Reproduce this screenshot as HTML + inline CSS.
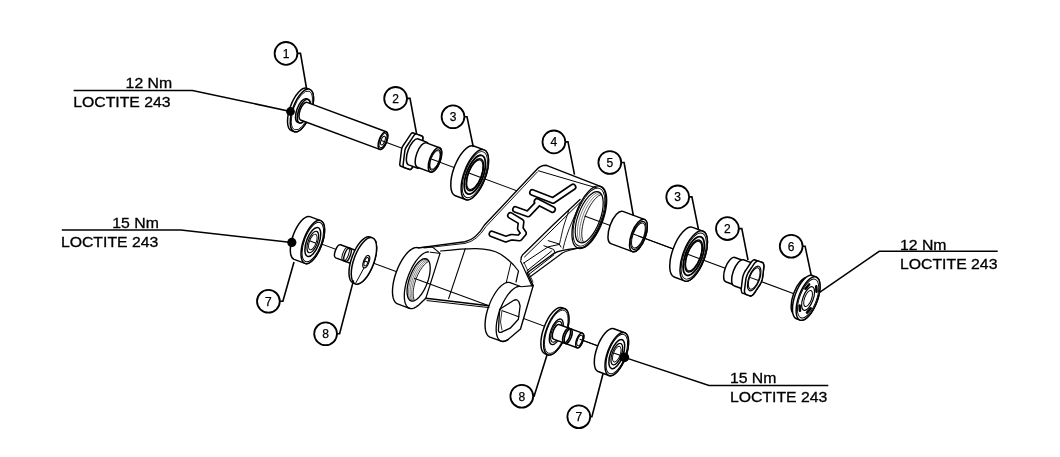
<!DOCTYPE html>
<html><head><meta charset="utf-8"><style>
html,body{margin:0;padding:0;background:#fff;}
svg{display:block;will-change:transform;font-family:"Liberation Sans",sans-serif;}
</style></head><body>
<svg width="1060" height="457" viewBox="0 0 1060 457">
<rect width="1060" height="457" fill="#fff"/>
<line x1="382.50" y1="140.91" x2="808.08" y2="299.02" stroke="#000" stroke-width="1.05"/>
<line x1="306.24" y1="238.38" x2="617.73" y2="353.26" stroke="#000" stroke-width="1.05"/>
<path d="M306.91,88.33 A9.22,22.50 20.38 0 0 291.24,130.51 L294.05,131.56 A9.22,22.50 20.38 0 0 309.72,89.37 Z" fill="#fff" stroke="#000" stroke-width="1.5" stroke-linejoin="round"/><ellipse cx="301.88" cy="110.46" rx="9.22" ry="22.50" transform="rotate(20.380 301.88 110.46)" fill="#fff" stroke="#000" stroke-width="1.5" />
<ellipse cx="301.88" cy="110.46" rx="8.40" ry="20.50" transform="rotate(20.380 301.88 110.46)" fill="none" stroke="#000" stroke-width="0.8" />
<path d="M306.24,98.75 A5.12,12.50 20.38 0 0 297.53,122.18 L299.41,122.88 A5.12,12.50 20.38 0 0 308.11,99.44 Z" fill="#fff" stroke="#000" stroke-width="1.5" stroke-linejoin="round"/><ellipse cx="303.76" cy="111.16" rx="5.12" ry="12.50" transform="rotate(20.380 303.76 111.16)" fill="#fff" stroke="#000" stroke-width="1.5" />
<path d="M307.03,102.35 A3.85,9.40 20.38 0 0 300.49,119.97 L379.70,149.40 A3.85,9.40 20.38 0 0 386.24,131.78 Z" fill="#fff" stroke="#000" stroke-width="1.5" stroke-linejoin="round"/>
<ellipse cx="382.97" cy="140.59" rx="3.85" ry="9.40" transform="rotate(20.380 382.97 140.59)" fill="none" stroke="#000" stroke-width="1.5" />
<ellipse cx="382.97" cy="140.59" rx="3.12" ry="7.60" transform="rotate(20.380 382.97 140.59)" fill="none" stroke="#000" stroke-width="0.9" />
<ellipse cx="382.97" cy="140.59" rx="1.89" ry="4.60" transform="rotate(20.380 382.97 140.59)" fill="none" stroke="#000" stroke-width="1.0" />
<line x1="381.20" y1="140.43" x2="384.74" y2="141.74" stroke="#000" stroke-width="1.05"/>
<path d="M399.78,163.95 L399.98,162.35 L400.85,155.27 L401.59,149.33 L402.04,147.67 L402.78,146.13 L403.68,144.78 L405.32,142.31 L410.96,133.87 L411.86,132.95 L412.69,132.69 L414.04,133.19 L415.97,133.91 L420.35,135.54 L422.33,136.27 L422.78,137.01 L422.87,138.29 L422.67,139.90 L421.80,146.98 L421.06,152.92 L420.61,154.57 L419.87,156.12 L418.97,157.46 L411.70,168.38 L410.79,169.29 L409.97,169.56 L405.58,167.93 L402.30,166.71 L400.32,165.97 L399.87,165.24 Z" fill="#fff" stroke="#000" stroke-width="1.5" stroke-linejoin="round"/><path d="M415.78,162.25 L415.02,163.40 L414.24,164.57 L413.44,165.77 L412.59,167.03 L411.70,168.38 L410.79,169.29 L409.97,169.56 L409.27,169.30 L408.61,169.05 L407.99,168.82 L407.38,168.60 L406.78,168.37 L406.19,168.15 L405.58,167.93 L404.96,167.70 L404.30,167.45 L403.60,167.19 L403.15,166.46 L403.06,165.17 L403.26,163.56 L403.45,162.06 L403.62,160.62 L403.80,159.23 L403.97,157.86 L404.14,156.49 L404.31,155.09 L404.49,153.66 L404.67,152.15 L404.87,150.55 L405.32,148.89 L406.06,147.35 L406.96,146.00 L407.80,144.74 L408.60,143.53 L409.38,142.37 L410.15,141.22 L410.92,140.07 L411.69,138.90 L412.50,137.69 L413.34,136.43 L414.24,135.09 L415.14,134.17 L415.97,133.91 L416.67,134.17 L417.32,134.41 L417.95,134.64 L418.55,134.87 L419.15,135.09 L419.75,135.31 L420.35,135.54 L420.98,135.77 L421.63,136.01 L422.33,136.27 L422.78,137.01 L422.87,138.29 L422.67,139.90 L422.49,141.40 L422.31,142.84 L422.14,144.23 L421.97,145.61 L421.80,146.98 L421.62,148.37 L421.45,149.81 L421.26,151.31 L421.06,152.92 L420.61,154.57 L419.87,156.12 L418.97,157.46 L418.13,158.73 L417.33,159.93 L416.55,161.10 Z" fill="#fff" stroke="#000" stroke-width="1.5" stroke-linejoin="round"/>
<path d="M418.24,138.97 A5.66,13.80 20.38 0 0 408.63,164.84 L417.07,167.98 A5.66,13.80 20.38 0 0 426.68,142.10 Z" fill="#fff" stroke="#000" stroke-width="1.5" stroke-linejoin="round"/>
<path d="M426.40,142.85 A5.33,13.00 20.38 0 0 417.34,167.23 L430.47,172.10 A5.33,13.00 20.38 0 0 439.52,147.73 Z" fill="#fff" stroke="#000" stroke-width="1.5" stroke-linejoin="round"/>
<ellipse cx="435.00" cy="159.92" rx="5.33" ry="13.00" transform="rotate(20.380 435.00 159.92)" fill="none" stroke="#000" stroke-width="1.5" />
<ellipse cx="435.00" cy="159.92" rx="4.43" ry="10.80" transform="rotate(20.380 435.00 159.92)" fill="none" stroke="#000" stroke-width="1.0" />
<ellipse cx="435.00" cy="159.92" rx="4.02" ry="9.80" transform="rotate(20.380 435.00 159.92)" fill="none" stroke="#000" stroke-width="0.8" />
<line x1="431.23" y1="159.02" x2="438.76" y2="161.82" stroke="#000" stroke-width="1.05"/>
<path d="M473.75,146.04 A10.87,26.50 20.38 0 0 455.30,195.73 L465.61,199.56 A10.87,26.50 20.38 0 0 484.06,149.88 Z" fill="#fff" stroke="#000" stroke-width="1.5" stroke-linejoin="round"/><ellipse cx="474.84" cy="174.72" rx="10.87" ry="26.50" transform="rotate(20.380 474.84 174.72)" fill="#fff" stroke="#000" stroke-width="1.5" /><ellipse cx="474.84" cy="174.72" rx="9.96" ry="24.30" transform="rotate(20.380 474.84 174.72)" fill="none" stroke="#000" stroke-width="0.9" /><ellipse cx="474.84" cy="174.72" rx="8.40" ry="20.50" transform="rotate(20.380 474.84 174.72)" fill="none" stroke="#000" stroke-width="1.8" /><ellipse cx="474.84" cy="174.72" rx="6.93" ry="16.90" transform="rotate(20.380 474.84 174.72)" fill="none" stroke="#000" stroke-width="1.5" /><ellipse cx="474.84" cy="174.72" rx="6.40" ry="15.60" transform="rotate(20.380 474.84 174.72)" fill="none" stroke="#000" stroke-width="1.1" /><line x1="468.84" y1="172.99" x2="480.83" y2="177.44" stroke="#000" stroke-width="1.05"/>
<path d="M309.90,216.63 A9.35,22.80 20.24 0 0 294.12,259.41 L304.91,263.39 A9.35,22.80 20.24 0 0 320.69,220.61 Z" fill="#fff" stroke="#000" stroke-width="1.5" stroke-linejoin="round"/><ellipse cx="312.80" cy="242.00" rx="9.35" ry="22.80" transform="rotate(20.244 312.80 242.00)" fill="#fff" stroke="#000" stroke-width="1.5" /><ellipse cx="312.80" cy="242.00" rx="8.53" ry="20.80" transform="rotate(20.244 312.80 242.00)" fill="none" stroke="#000" stroke-width="1.0" /><ellipse cx="312.80" cy="242.00" rx="6.27" ry="15.30" transform="rotate(20.244 312.80 242.00)" fill="none" stroke="#000" stroke-width="1.5" /><ellipse cx="312.80" cy="242.00" rx="4.63" ry="11.30" transform="rotate(20.244 312.80 242.00)" fill="none" stroke="#000" stroke-width="1.2" /><ellipse cx="312.80" cy="242.00" rx="3.40" ry="8.30" transform="rotate(20.244 312.80 242.00)" fill="none" stroke="#000" stroke-width="0.9" /><line x1="309.61" y1="240.82" x2="316.00" y2="243.18" stroke="#000" stroke-width="1.05"/>
<path d="M340.56,244.78 A2.87,7.00 20.24 0 0 335.71,257.91 L359.17,266.56 A2.87,7.00 20.24 0 0 364.01,253.43 Z" fill="#fff" stroke="#000" stroke-width="1.5" stroke-linejoin="round"/><ellipse cx="361.59" cy="259.99" rx="2.87" ry="7.00" transform="rotate(20.244 361.59 259.99)" fill="#fff" stroke="#000" stroke-width="1.5" />
<ellipse cx="345.64" cy="254.11" rx="2.87" ry="7.00" transform="rotate(20.244 345.64 254.11)" fill="none" stroke="#000" stroke-width="1.0" />
<ellipse cx="347.52" cy="254.80" rx="2.87" ry="7.00" transform="rotate(20.244 347.52 254.80)" fill="none" stroke="#000" stroke-width="1.4" />
<path d="M370.07,237.01 A10.04,24.50 20.24 0 0 353.11,282.98 L355.46,283.85 A10.04,24.50 20.24 0 0 372.41,237.87 Z" fill="#fff" stroke="#000" stroke-width="1.5" stroke-linejoin="round"/><ellipse cx="363.94" cy="260.86" rx="10.04" ry="24.50" transform="rotate(20.244 363.94 260.86)" fill="#fff" stroke="#000" stroke-width="1.5" />
<ellipse cx="366.28" cy="261.72" rx="2.67" ry="6.50" transform="rotate(20.244 366.28 261.72)" fill="none" stroke="#000" stroke-width="1.2" />
<ellipse cx="366.28" cy="261.72" rx="1.80" ry="4.40" transform="rotate(20.244 366.28 261.72)" fill="none" stroke="#000" stroke-width="1.0" />
<line x1="364.59" y1="261.10" x2="367.97" y2="262.35" stroke="#000" stroke-width="1.05"/>
<line x1="364.03" y1="267.82" x2="355.81" y2="282.91" stroke="#000" stroke-width="1"/>
<path d="M397.59,303.94 L396.37,303.29 L395.29,302.29 L394.38,300.97 L393.63,299.32 L393.06,297.38 L392.68,295.18 L392.49,292.73 L392.50,290.06 L392.70,287.22 L393.09,284.24 L393.67,281.15 L394.42,277.99 L395.35,274.81 L396.44,271.65 L397.67,268.53 L399.03,265.51 L400.50,262.62 L402.07,259.89 L403.70,257.37 L405.40,255.08 L407.12,253.05 L408.86,251.31 L410.58,249.88 L412.27,248.77 L413.91,248.01 L415.47,247.59 L416.93,247.54 L418.29,247.84 L465,241.8 Q476,239.5 484.5,225 L536.3,170 Q540.5,165.2 546.5,165.3 L601.09,186.63 L602.43,187.35 L603.61,188.44 L604.61,189.90 L605.43,191.71 L606.05,193.83 L606.46,196.26 L606.66,198.95 L606.64,201.87 L606.42,204.98 L605.98,208.26 L605.34,211.64 L604.50,215.10 L603.47,218.59 L602.27,222.06 L600.91,225.47 L599.42,228.78 L597.79,231.95 L596.07,234.94 L594.26,237.70 L592.40,240.21 L590.50,242.43 L588.60,244.34 L586.70,245.90 L584.85,247.11 L583.05,247.94 L581.34,248.39 L579.73,248.45 L578.24,248.12 C570,249 558,251 554.4,253.1 L527.2,272.8 L533.2,285.6 L520.5,329 L508.03,339.57 L507.08,340.17 L506.14,340.66 L505.23,341.04 L504.34,341.30 L503.48,341.44 L502.65,341.46 L501.86,341.37 L501.11,341.16 L490.04,337.08 L489.43,336.80 L488.85,336.44 L488.31,336.00 L487.81,335.48 L487.34,334.87 L486.92,334.19 L486.53,333.43 L486.19,332.60 L485.89,331.69 L485.64,330.72 L485.43,329.68 L485.27,328.57 L485.16,327.41 L485.09,326.20 L485.07,324.93 L485.10,323.61 L485.17,322.26 L485.29,320.86 L485.46,319.43 L485.67,317.97 L485.93,316.48 L486.23,314.97 L486.58,313.45 L486.96,311.91 L487.39,310.37 L487.86,308.83 L488.37,307.28 L488.92,305.75 L425.8,298.3 L419.23,304.46 L417.88,305.66 L416.55,306.66 L415.25,307.47 L413.97,308.06 L412.74,308.44 L411.57,308.61 L410.46,308.56 L409.42,308.30 Z" fill="#fff" stroke="#000" stroke-width="1.4" stroke-linejoin="round"/>
<path d="M428.41,251.88 L426.98,252.01 L425.48,252.46 L423.91,253.24 L422.29,254.32 L420.64,255.71 L418.98,257.37 L417.33,259.30 L415.71,261.46 L414.14,263.85 L412.63,266.42 L411.20,269.15 L409.87,272.01 L408.65,274.96 L407.57,277.97 L406.62,281.01 L405.82,284.04 L405.18,287.03 L404.71,289.94 L404.41,292.74 L404.29,295.39 L404.35,297.87 L404.58,300.15 L404.99,302.20 L405.57,304.00 L406.31,305.52 L407.20,306.76 L408.24,307.69 L409.42,308.30" fill="none" stroke="#000" stroke-width="1.3" stroke-linejoin="round" stroke-linecap="round"/>
<path d="M418.29,247.84 L432,246.6 L440,253.4 L425.8,298.3" fill="none" stroke="#000" stroke-width="1.2" stroke-linejoin="round" stroke-linecap="round"/>
<path d="M430.11,252.19 L440,253.4" fill="none" stroke="#000" stroke-width="1.0" stroke-linejoin="round" stroke-linecap="round"/>
<path d="M427.25,283.01 L425.93,286.26 L424.43,289.35 L422.79,292.21 L421.05,294.76 L419.25,296.94 L417.43,298.70 L415.64,300.00 L413.93,300.80 L412.33,301.09 L410.88,300.85 L409.63,300.09 L408.60,298.84 L407.82,297.12 L407.30,294.97 L407.06,292.45 L407.11,289.61 L407.44,286.54 L408.05,283.30 L408.91,279.98 L410.02,276.65 L411.34,273.41 L412.84,270.32 L414.48,267.46 L416.22,264.91 L418.02,262.72 L419.84,260.96 L421.63,259.66 L423.34,258.86 L424.94,258.58 L426.39,258.82 L427.64,259.57 L428.67,260.83 L429.45,262.55 L429.97,264.70 L430.21,267.22 L430.16,270.05 L429.83,273.12 L429.23,276.36 L428.36,279.68 L427.25,283.01 Z" fill="none" stroke="#000" stroke-width="1.3" stroke-linejoin="round" stroke-linecap="round"/>
<path d="M411.68,301.05 L410.77,300.27 L410.00,299.19 L409.39,297.83 L408.95,296.20 L408.67,294.32 L408.57,292.24 L408.65,289.97 L408.90,287.56 L409.32,285.04 L409.91,282.45 L410.65,279.83 L411.54,277.22 L412.56,274.65 L413.70,272.17 L414.93,269.82 L416.25,267.63 L417.62,265.63 L419.04,263.86 L420.47,262.34 L421.89,261.10 L423.29,260.15 L424.64,259.50 L425.92,259.18 L427.12,259.18" fill="none" stroke="#000" stroke-width="0.5"/><path d="M412.53,301.08 L411.77,300.15 L411.14,298.96 L410.65,297.54 L410.32,295.88 L410.13,294.03 L410.10,292.00 L410.23,289.82 L410.51,287.53 L410.94,285.14 L411.52,282.70 L412.23,280.23 L413.07,277.78 L414.02,275.37 L415.08,273.03 L416.23,270.80 L417.45,268.70 L418.73,266.78 L420.05,265.04 L421.39,263.51 L422.73,262.22 L424.06,261.19 L425.36,260.42 L426.61,259.92 L427.79,259.71" fill="none" stroke="#000" stroke-width="0.5"/><path d="M413.45,300.94 L412.83,299.89 L412.33,298.62 L411.96,297.15 L411.73,295.50 L411.62,293.69 L411.66,291.73 L411.83,289.65 L412.13,287.47 L412.57,285.23 L413.13,282.94 L413.80,280.64 L414.59,278.34 L415.48,276.08 L416.46,273.89 L417.52,271.79 L418.65,269.80 L419.83,267.95 L421.05,266.25 L422.30,264.74 L423.56,263.43 L424.81,262.33 L426.04,261.45 L427.24,260.81 L428.39,260.41" fill="none" stroke="#000" stroke-width="0.5"/><path d="M414.44,300.61 L413.95,299.47 L413.58,298.16 L413.32,296.67 L413.18,295.05 L413.15,293.29 L413.24,291.41 L413.45,289.44 L413.77,287.40 L414.20,285.30 L414.74,283.17 L415.38,281.03 L416.12,278.90 L416.94,276.81 L417.84,274.76 L418.81,272.79 L419.85,270.92 L420.93,269.15 L422.05,267.52 L423.20,266.04 L424.36,264.72 L425.53,263.57 L426.69,262.61 L427.83,261.86 L428.93,261.30" fill="none" stroke="#000" stroke-width="0.9"/>
<path d="M424,248.0 L465,243.4 Q477,241 486,226.5 L537.5,171.8" fill="none" stroke="#000" stroke-width="0.9" stroke-linejoin="round" stroke-linecap="round"/>
<path d="M440.5,251.0 C468,248 488,246.5 500.3,253.9 C508,259 515,266 518.5,271 L516,282" fill="none" stroke="#000" stroke-width="1.2" stroke-linejoin="round" stroke-linecap="round"/>
<path d="M465.3,248.6 L448.6,298.6" fill="none" stroke="#000" stroke-width="1.1" stroke-linejoin="round" stroke-linecap="round"/>
<path d="M427,300.6 L489,307.6" fill="none" stroke="#000" stroke-width="1.0" stroke-linejoin="round" stroke-linecap="round"/>
<path d="M510.8,263.5 L506.4,281.9" fill="none" stroke="#000" stroke-width="1.0" stroke-linejoin="round" stroke-linecap="round"/>
<path d="M519.53,286.43 L517.90,286.62 L516.16,287.23 L514.35,288.27 L512.48,289.71 L510.59,291.54 L508.72,293.72 L506.88,296.23 L505.10,299.01 L503.43,302.03 L501.87,305.24 L500.46,308.59 L499.22,312.02 L498.17,315.48 L497.33,318.92 L496.70,322.28 L496.31,325.51 L496.14,328.55 L496.22,331.36 L496.53,333.90 L497.07,336.12 L497.84,337.99 L498.81,339.48 L499.99,340.57 L501.33,341.24 L502.84,341.47 L504.47,341.26 L506.21,340.63 L508.03,339.57" fill="none" stroke="#000" stroke-width="1.3" stroke-linejoin="round" stroke-linecap="round"/>
<path d="M488.92,305.75 L490.11,302.73 L491.43,299.80 L492.86,297.00 L494.38,294.35 L495.97,291.91 L497.61,289.69 L499.28,287.72 L500.96,286.03 L502.63,284.64 L504.27,283.57 L505.86,282.83 L507.37,282.43 L508.80,282.37 L510.11,282.66 L521.18,286.74 L533.2,285.6" fill="none" stroke="#000" stroke-width="1.2" stroke-linejoin="round" stroke-linecap="round"/>
<path d="M499.6,309.3 L513.5,300.5 Q517,298.5 519,302 L520.1,306 L518.4,319.2 L510.2,328.2 L501,332.3 Q498,333 498.5,329 Z" fill="none" stroke="#000" stroke-width="1.3" stroke-linejoin="round" stroke-linecap="round"/>
<path d="M502,310 L500.5,322 L502,330" fill="none" stroke="#000" stroke-width="0.8" stroke-linejoin="round" stroke-linecap="round"/>
<path d="M521,260 Q521,255.5 524,253.5 L553,225 L580,199.5" fill="none" stroke="#000" stroke-width="1.3" stroke-linejoin="round" stroke-linecap="round"/>
<path d="M524.5,257 L580,202.5" fill="none" stroke="#000" stroke-width="1.0" stroke-linejoin="round" stroke-linecap="round"/>
<path d="M520.5,261 L532,286" fill="none" stroke="#000" stroke-width="1.2" stroke-linejoin="round" stroke-linecap="round"/>
<path d="M524,262.5 L533,282" fill="none" stroke="#000" stroke-width="0.8" stroke-linejoin="round" stroke-linecap="round"/>
<path d="M523.6,263.1 L548.2,246.8 L559,244.5" fill="none" stroke="#000" stroke-width="1.0" stroke-linejoin="round" stroke-linecap="round"/>
<path d="M526.9,270.8 L551.5,251.1" fill="none" stroke="#000" stroke-width="1.0" stroke-linejoin="round" stroke-linecap="round"/>
<path d="M528.6,274.6 L553.7,255" fill="none" stroke="#000" stroke-width="1.0" stroke-linejoin="round" stroke-linecap="round"/>
<path d="M530.2,276.8 L562,253.3 C566,250.5 572,249 585,247" fill="none" stroke="#000" stroke-width="1.2" stroke-linejoin="round" stroke-linecap="round"/>
<path d="M548.2,240.7 L559.2,244 L561,247 M543.9,245.7 L553.7,249.5 L555,253" fill="none" stroke="#000" stroke-width="1.0" stroke-linejoin="round" stroke-linecap="round"/>
<path d="M559.5,244 C561,238 562,232 564,225 L569,210" fill="none" stroke="#000" stroke-width="0.9" stroke-linejoin="round" stroke-linecap="round"/>
<path d="M563,249 C565,240 568,231 572,222 L578,208" fill="none" stroke="#000" stroke-width="0.9" stroke-linejoin="round" stroke-linecap="round"/>
<path d="M538.5,170.8 L597,188" fill="none" stroke="#000" stroke-width="1.0" stroke-linejoin="round" stroke-linecap="round"/>
<ellipse cx="588.92" cy="217.10" rx="13.45" ry="32.80" transform="rotate(20.380 588.92 217.10)" fill="none" stroke="#000" stroke-width="1.3" />
<ellipse cx="588.92" cy="217.10" rx="12.55" ry="30.60" transform="rotate(20.380 588.92 217.10)" fill="none" stroke="#000" stroke-width="0.9" />
<ellipse cx="589.20" cy="217.20" rx="11.07" ry="27.00" transform="rotate(20.380 589.20 217.20)" fill="none" stroke="#000" stroke-width="1.2" />
<path d="M580.94,242.78 L579.88,241.80 L579.00,240.47 L578.29,238.81 L577.79,236.83 L577.48,234.58 L577.38,232.08 L577.49,229.37 L577.81,226.49 L578.33,223.48 L579.04,220.39 L579.94,217.27 L581.01,214.16 L582.23,211.11 L583.59,208.15 L585.06,205.35 L586.63,202.73 L588.27,200.35 L589.96,198.22 L591.67,196.39 L593.37,194.88 L595.04,193.72 L596.66,192.92 L598.20,192.49 L599.64,192.44" fill="none" stroke="#000" stroke-width="0.5"/><path d="M582.19,242.76 L581.34,241.57 L580.65,240.10 L580.13,238.36 L579.77,236.36 L579.59,234.14 L579.59,231.73 L579.77,229.15 L580.13,226.43 L580.66,223.62 L581.35,220.75 L582.20,217.86 L583.20,214.97 L584.32,212.14 L585.57,209.39 L586.92,206.76 L588.36,204.29 L589.86,202.00 L591.41,199.93 L592.98,198.10 L594.57,196.53 L596.14,195.25 L597.68,194.28 L599.16,193.61 L600.58,193.27" fill="none" stroke="#000" stroke-width="0.5"/><path d="M583.56,242.43 L582.91,241.10 L582.40,239.53 L582.04,237.75 L581.82,235.77 L581.76,233.62 L581.84,231.31 L582.08,228.88 L582.47,226.35 L583.00,223.75 L583.66,221.10 L584.46,218.44 L585.38,215.78 L586.42,213.18 L587.55,210.64 L588.77,208.20 L590.07,205.88 L591.43,203.71 L592.84,201.71 L594.28,199.91 L595.73,198.32 L597.19,196.96 L598.63,195.85 L600.04,195.00 L601.40,194.41" fill="none" stroke="#000" stroke-width="0.9"/>
<path d="M532.5,192.5 L553,200.5 L573,187" fill="none" stroke="#000" stroke-width="7.1" stroke-linejoin="round" stroke-linecap="round"/>
<path d="M537,201.5 L552.5,209.5" fill="none" stroke="#000" stroke-width="7.1" stroke-linejoin="round" stroke-linecap="round"/>
<path d="M537.5,204 L528,214 L515.5,209.5" fill="none" stroke="#000" stroke-width="7.1" stroke-linejoin="round" stroke-linecap="round"/>
<path d="M510.5,215.5 L521.1,221.8 L520.3,228.5 L523.5,233.2 L519.5,238 L511.6,237.2 L505.7,239.1 L492,234" fill="none" stroke="#000" stroke-width="7.1" stroke-linejoin="round" stroke-linecap="round"/>
<path d="M532.5,192.5 L553,200.5 L573,187" fill="none" stroke="#fff" stroke-width="3.8" stroke-linejoin="round" stroke-linecap="round"/>
<path d="M537,201.5 L552.5,209.5" fill="none" stroke="#fff" stroke-width="3.8" stroke-linejoin="round" stroke-linecap="round"/>
<path d="M537.5,204 L528,214 L515.5,209.5" fill="none" stroke="#fff" stroke-width="3.8" stroke-linejoin="round" stroke-linecap="round"/>
<path d="M510.5,215.5 L521.1,221.8 L520.3,228.5 L523.5,233.2 L519.5,238 L511.6,237.2 L505.7,239.1 L492,234" fill="none" stroke="#fff" stroke-width="3.8" stroke-linejoin="round" stroke-linecap="round"/>
<line x1="414.13" y1="278.17" x2="488.25" y2="305.51" stroke="#000" stroke-width="1.05"/>
<line x1="584.51" y1="215.96" x2="599.98" y2="221.71" stroke="#000" stroke-width="1.05"/>
<line x1="502.33" y1="310.70" x2="519.21" y2="316.93" stroke="#000" stroke-width="1.05"/>
<path d="M622.84,211.35 A7.05,17.20 20.38 0 0 610.86,243.60 L632.42,251.61 A7.05,17.20 20.38 0 0 644.40,219.36 Z" fill="#fff" stroke="#000" stroke-width="1.5" stroke-linejoin="round"/><ellipse cx="638.41" cy="235.49" rx="7.05" ry="17.20" transform="rotate(20.380 638.41 235.49)" fill="#fff" stroke="#000" stroke-width="1.5" />
<ellipse cx="638.41" cy="235.49" rx="6.07" ry="14.80" transform="rotate(20.380 638.41 235.49)" fill="none" stroke="#000" stroke-width="1.2" />
<ellipse cx="638.41" cy="235.49" rx="5.41" ry="13.20" transform="rotate(20.380 638.41 235.49)" fill="none" stroke="#000" stroke-width="0.9" />
<line x1="633.34" y1="234.10" x2="643.49" y2="237.87" stroke="#000" stroke-width="1.05"/>
<line x1="638.41" y1="235.99" x2="683.41" y2="252.70" stroke="#000" stroke-width="1.05"/>
<path d="M692.64,227.36 A10.87,26.50 20.38 0 0 674.18,277.04 L684.49,280.87 A10.87,26.50 20.38 0 0 702.95,231.19 Z" fill="#fff" stroke="#000" stroke-width="1.5" stroke-linejoin="round"/><ellipse cx="693.72" cy="256.03" rx="10.87" ry="26.50" transform="rotate(20.380 693.72 256.03)" fill="#fff" stroke="#000" stroke-width="1.5" /><ellipse cx="693.72" cy="256.03" rx="9.96" ry="24.30" transform="rotate(20.380 693.72 256.03)" fill="none" stroke="#000" stroke-width="0.9" /><ellipse cx="693.72" cy="256.03" rx="8.40" ry="20.50" transform="rotate(20.380 693.72 256.03)" fill="none" stroke="#000" stroke-width="1.8" /><ellipse cx="693.72" cy="256.03" rx="6.93" ry="16.90" transform="rotate(20.380 693.72 256.03)" fill="none" stroke="#000" stroke-width="1.5" /><ellipse cx="693.72" cy="256.03" rx="6.40" ry="15.60" transform="rotate(20.380 693.72 256.03)" fill="none" stroke="#000" stroke-width="1.1" /><line x1="687.72" y1="254.30" x2="699.71" y2="258.76" stroke="#000" stroke-width="1.05"/>
<path d="M734.80,257.43 A5.33,13.00 20.38 0 0 725.75,281.80 L734.19,284.93 A5.33,13.00 20.38 0 0 743.24,260.56 Z" fill="#fff" stroke="#000" stroke-width="1.5" stroke-linejoin="round"/>
<path d="M743.52,259.81 A5.66,13.80 20.38 0 0 733.91,285.68 L746.09,290.21 A5.66,13.80 20.38 0 0 755.71,264.34 Z" fill="#fff" stroke="#000" stroke-width="1.5" stroke-linejoin="round"/>
<path d="M741.19,289.11 L741.38,287.60 L741.73,284.77 L742.24,280.64 L742.42,279.20 L742.61,277.69 L743.02,276.12 L743.57,274.55 L744.18,273.01 L744.89,271.54 L746.54,269.08 L750.43,263.24 L751.27,261.97 L752.14,261.07 L752.99,260.44 L753.82,259.93 L754.60,259.71 L755.88,260.19 L759.77,261.63 L762.85,262.77 L763.30,263.45 L763.59,264.38 L763.82,265.42 L763.89,266.66 L763.70,268.17 L763.01,273.74 L762.47,278.07 L762.06,279.65 L761.51,281.22 L760.90,282.76 L760.19,284.23 L757.77,287.86 L755.45,291.33 L754.65,292.53 L753.81,293.79 L752.95,294.69 L752.10,295.33 L751.26,295.84 L750.48,296.06 L749.83,295.81 L749.20,295.58 L748.60,295.36 L744.72,293.92 L742.23,292.99 L741.79,292.32 L741.49,291.39 L741.26,290.35 Z" fill="#fff" stroke="#000" stroke-width="1.5" stroke-linejoin="round"/><path d="M761.51,281.22 L760.90,282.76 L760.19,284.23 L759.35,285.49 L758.54,286.69 L757.77,287.86 L757.00,289.01 L756.23,290.16 L755.45,291.33 L754.65,292.53 L753.81,293.79 L752.95,294.69 L752.10,295.33 L751.26,295.84 L750.48,296.06 L749.83,295.81 L749.20,295.58 L748.60,295.36 L748.00,295.14 L747.40,294.91 L746.80,294.69 L746.17,294.46 L745.52,294.21 L745.07,293.54 L744.77,292.61 L744.54,291.57 L744.47,290.33 L744.66,288.82 L744.84,287.38 L745.01,285.99 L745.18,284.62 L745.35,283.25 L745.52,281.85 L745.70,280.42 L745.89,278.91 L746.30,277.34 L746.85,275.77 L747.46,274.22 L748.17,272.76 L749.01,271.50 L749.82,270.29 L750.60,269.13 L751.36,267.98 L752.13,266.83 L752.91,265.66 L753.71,264.45 L754.55,263.19 L755.42,262.29 L756.27,261.66 L757.10,261.15 L757.88,260.93 L758.54,261.17 L759.16,261.40 L759.77,261.63 L760.36,261.85 L760.96,262.07 L761.57,262.30 L762.19,262.53 L762.85,262.77 L763.30,263.45 L763.59,264.38 L763.82,265.42 L763.89,266.66 L763.70,268.17 L763.52,269.60 L763.35,271.00 L763.18,272.37 L763.01,273.74 L762.84,275.13 L762.66,276.57 L762.47,278.07 L762.06,279.65 Z" fill="#fff" stroke="#000" stroke-width="1.5" stroke-linejoin="round"/>
<ellipse cx="754.18" cy="278.49" rx="5.33" ry="13.00" transform="rotate(20.380 754.18 278.49)" fill="none" stroke="#000" stroke-width="1.2" />
<ellipse cx="754.18" cy="278.49" rx="4.63" ry="11.30" transform="rotate(20.380 754.18 278.49)" fill="none" stroke="#000" stroke-width="0.9" />
<line x1="749.84" y1="277.38" x2="758.52" y2="280.61" stroke="#000" stroke-width="1.05"/>
<path d="M807.84,277.63 A7.99,19.50 20.38 0 0 794.26,314.18 L797.54,315.40 A7.99,19.50 20.38 0 0 811.12,278.85 Z" fill="#fff" stroke="#000" stroke-width="1.5" stroke-linejoin="round"/><ellipse cx="804.33" cy="297.12" rx="7.99" ry="19.50" transform="rotate(20.380 804.33 297.12)" fill="#fff" stroke="#000" stroke-width="1.5" />
<path d="M812.34,275.56 A9.43,23.00 20.38 0 0 796.32,318.68 L800.07,320.08 A9.43,23.00 20.38 0 0 816.09,276.96 Z" fill="#fff" stroke="#000" stroke-width="1.5" stroke-linejoin="round"/><ellipse cx="808.08" cy="298.52" rx="9.43" ry="23.00" transform="rotate(20.380 808.08 298.52)" fill="#fff" stroke="#000" stroke-width="1.5" />
<ellipse cx="808.08" cy="298.52" rx="8.40" ry="20.50" transform="rotate(20.380 808.08 298.52)" fill="none" stroke="#000" stroke-width="0.9" />
<ellipse cx="808.08" cy="298.52" rx="5.12" ry="12.50" transform="rotate(20.380 808.08 298.52)" fill="none" stroke="#000" stroke-width="1.2" />
<ellipse cx="808.08" cy="298.52" rx="3.48" ry="8.50" transform="rotate(20.380 808.08 298.52)" fill="none" stroke="#000" stroke-width="1.0" />
<path d="M810.70,308.29 L807.01,312.54" stroke="#000" stroke-width="2.6" stroke-linecap="round"/>
<path d="M799.93,310.73 L799.59,305.46" stroke="#000" stroke-width="2.6" stroke-linecap="round"/>
<path d="M805.46,288.74 L809.15,284.50" stroke="#000" stroke-width="2.6" stroke-linecap="round"/>
<path d="M816.23,286.30 L816.57,291.58" stroke="#000" stroke-width="2.6" stroke-linecap="round"/>
<path d="M561.94,307.77 A10.04,24.50 20.24 0 0 544.98,353.74 L547.80,354.78 A10.04,24.50 20.24 0 0 564.75,308.81 Z" fill="#fff" stroke="#000" stroke-width="1.5" stroke-linejoin="round"/><ellipse cx="556.27" cy="331.79" rx="10.04" ry="24.50" transform="rotate(20.244 556.27 331.79)" fill="#fff" stroke="#000" stroke-width="1.5" />
<ellipse cx="556.27" cy="331.79" rx="9.35" ry="22.80" transform="rotate(20.244 556.27 331.79)" fill="none" stroke="#000" stroke-width="0.8" />
<ellipse cx="556.27" cy="331.79" rx="5.53" ry="13.50" transform="rotate(20.244 556.27 331.79)" fill="none" stroke="#000" stroke-width="1.4" />
<ellipse cx="556.27" cy="331.79" rx="4.51" ry="11.00" transform="rotate(20.244 556.27 331.79)" fill="none" stroke="#000" stroke-width="1.0" />
<path d="M558.97,324.48 A3.20,7.80 20.24 0 0 553.57,339.11 L577.03,347.76 A3.20,7.80 20.24 0 0 582.43,333.13 Z" fill="#fff" stroke="#000" stroke-width="1.5" stroke-linejoin="round"/><ellipse cx="579.73" cy="340.44" rx="3.20" ry="7.80" transform="rotate(20.244 579.73 340.44)" fill="#fff" stroke="#000" stroke-width="1.5" />
<ellipse cx="566.59" cy="335.60" rx="3.20" ry="7.80" transform="rotate(20.244 566.59 335.60)" fill="none" stroke="#000" stroke-width="1.6" />
<ellipse cx="568.19" cy="336.19" rx="3.20" ry="7.80" transform="rotate(20.244 568.19 336.19)" fill="none" stroke="#000" stroke-width="1.6" />
<ellipse cx="579.73" cy="340.44" rx="2.25" ry="5.50" transform="rotate(20.244 579.73 340.44)" fill="none" stroke="#000" stroke-width="1.0" />
<line x1="579.73" y1="339.24" x2="606.47" y2="349.11" stroke="#000" stroke-width="1.05"/>
<path d="M613.89,328.74 A9.35,22.80 20.24 0 0 598.11,371.52 L608.90,375.50 A9.35,22.80 20.24 0 0 624.68,332.72 Z" fill="#fff" stroke="#000" stroke-width="1.5" stroke-linejoin="round"/><ellipse cx="616.79" cy="354.11" rx="9.35" ry="22.80" transform="rotate(20.244 616.79 354.11)" fill="#fff" stroke="#000" stroke-width="1.5" /><ellipse cx="616.79" cy="354.11" rx="8.53" ry="20.80" transform="rotate(20.244 616.79 354.11)" fill="none" stroke="#000" stroke-width="1.0" /><ellipse cx="616.79" cy="354.11" rx="6.27" ry="15.30" transform="rotate(20.244 616.79 354.11)" fill="none" stroke="#000" stroke-width="1.5" /><ellipse cx="616.79" cy="354.11" rx="4.63" ry="11.30" transform="rotate(20.244 616.79 354.11)" fill="none" stroke="#000" stroke-width="1.2" /><ellipse cx="616.79" cy="354.11" rx="3.40" ry="8.30" transform="rotate(20.244 616.79 354.11)" fill="none" stroke="#000" stroke-width="0.9" /><line x1="613.60" y1="352.93" x2="619.98" y2="355.29" stroke="#000" stroke-width="1.05"/>
<circle cx="286" cy="53.4" r="11.4" fill="#fff" stroke="#000" stroke-width="1.8"/><text x="286" y="57.9" text-anchor="middle" font-size="12" stroke="#000" stroke-width="0.25">1</text><polyline points="297.4,53.4 300.5,53.4 306.8,90.0" fill="none" stroke="#000" stroke-width="1.6"/>
<circle cx="395.6" cy="98.4" r="11.4" fill="#fff" stroke="#000" stroke-width="1.8"/><text x="395.6" y="102.9" text-anchor="middle" font-size="12" stroke="#000" stroke-width="0.25">2</text><polyline points="407.0,98.4 410.0,98.4 416.6,133.9" fill="none" stroke="#000" stroke-width="1.6"/>
<circle cx="453" cy="116.8" r="11.4" fill="#fff" stroke="#000" stroke-width="1.8"/><text x="453" y="121.3" text-anchor="middle" font-size="12" stroke="#000" stroke-width="0.25">3</text><polyline points="464.4,116.8 467.0,116.8 473.3,147.0" fill="none" stroke="#000" stroke-width="1.6"/>
<circle cx="553.9" cy="141.9" r="11.4" fill="#fff" stroke="#000" stroke-width="1.8"/><text x="553.9" y="146.4" text-anchor="middle" font-size="12" stroke="#000" stroke-width="0.25">4</text><polyline points="565.3,141.9 568.0,141.9 574.5,174.7" fill="none" stroke="#000" stroke-width="1.6"/>
<circle cx="609.8" cy="162.5" r="11.4" fill="#fff" stroke="#000" stroke-width="1.8"/><text x="609.8" y="167.0" text-anchor="middle" font-size="12" stroke="#000" stroke-width="0.25">5</text><polyline points="621.2,162.5 624.1,162.5 633.3,215.5" fill="none" stroke="#000" stroke-width="1.6"/>
<circle cx="677.7" cy="196.9" r="11.4" fill="#fff" stroke="#000" stroke-width="1.8"/><text x="677.7" y="201.4" text-anchor="middle" font-size="12" stroke="#000" stroke-width="0.25">3</text><polyline points="689.1,196.9 691.9,196.9 698.5,229.7" fill="none" stroke="#000" stroke-width="1.6"/>
<circle cx="727.4" cy="228.6" r="11.4" fill="#fff" stroke="#000" stroke-width="1.8"/><text x="727.4" y="233.1" text-anchor="middle" font-size="12" stroke="#000" stroke-width="0.25">2</text><polyline points="738.8,228.6 741.8,228.6 748.0,260.0" fill="none" stroke="#000" stroke-width="1.6"/>
<circle cx="791.2" cy="246.2" r="11.4" fill="#fff" stroke="#000" stroke-width="1.8"/><text x="791.2" y="250.7" text-anchor="middle" font-size="12" stroke="#000" stroke-width="0.25">6</text><polyline points="802.6,246.2 805.1,246.2 811.3,275.7" fill="none" stroke="#000" stroke-width="1.6"/>
<circle cx="268.4" cy="301.3" r="11.4" fill="#fff" stroke="#000" stroke-width="1.8"/><text x="268.4" y="305.8" text-anchor="middle" font-size="12" stroke="#000" stroke-width="0.25">7</text><polyline points="279.8,301.3 282.9,301.3 294.0,262.0" fill="none" stroke="#000" stroke-width="1.6"/>
<circle cx="325.6" cy="333.8" r="11.4" fill="#fff" stroke="#000" stroke-width="1.8"/><text x="325.6" y="338.3" text-anchor="middle" font-size="12" stroke="#000" stroke-width="0.25">8</text><polyline points="337.0,333.8 339.6,333.8 353.5,280.4" fill="none" stroke="#000" stroke-width="1.6"/>
<circle cx="521.8" cy="396.2" r="11.4" fill="#fff" stroke="#000" stroke-width="1.8"/><text x="521.8" y="400.7" text-anchor="middle" font-size="12" stroke="#000" stroke-width="0.25">8</text><polyline points="533.2,396.2 534.1,396.2 547.3,354.1" fill="none" stroke="#000" stroke-width="1.6"/>
<circle cx="578.8" cy="416.7" r="11.4" fill="#fff" stroke="#000" stroke-width="1.8"/><text x="578.8" y="421.2" text-anchor="middle" font-size="12" stroke="#000" stroke-width="0.25">7</text><polyline points="590.2,416.7 591.9,416.7 603.0,373.8" fill="none" stroke="#000" stroke-width="1.6"/>

<g font-size="14.8" stroke="#000" stroke-width="0.3">
<text transform="translate(125.6,87.8) scale(1.068,1)">12 Nm</text>
<text transform="translate(73.2,107) scale(1.068,1)">LOCTITE 243</text>
<text transform="translate(112.3,228) scale(1.068,1)">15 Nm</text>
<text transform="translate(60.9,246.9) scale(1.068,1)">LOCTITE 243</text>
<text transform="translate(900,249.9) scale(1.068,1)">12 Nm</text>
<text transform="translate(900,268.7) scale(1.068,1)">LOCTITE 243</text>
<text transform="translate(729.9,383.2) scale(1.068,1)">15 Nm</text>
<text transform="translate(729.9,402.2) scale(1.068,1)">LOCTITE 243</text>
</g>
<g fill="none" stroke="#000" stroke-width="1.5">
<polyline points="73.6,90.4 192.5,90.4 290.5,111.5"/>
<polyline points="61.8,230 180.9,230 291.7,242.5"/>
<polyline points="997.7,251.3 879.2,251.3 819.6,292.3"/>
<polyline points="828.3,385.5 709,385.5 624.4,357.4"/>
</g>
<g fill="#000">
<circle cx="290.5" cy="111.5" r="4.4"/>
<circle cx="291.8" cy="242.4" r="4.6"/>
<circle cx="624.4" cy="357.4" r="4.8"/>
</g>

</svg></body></html>
